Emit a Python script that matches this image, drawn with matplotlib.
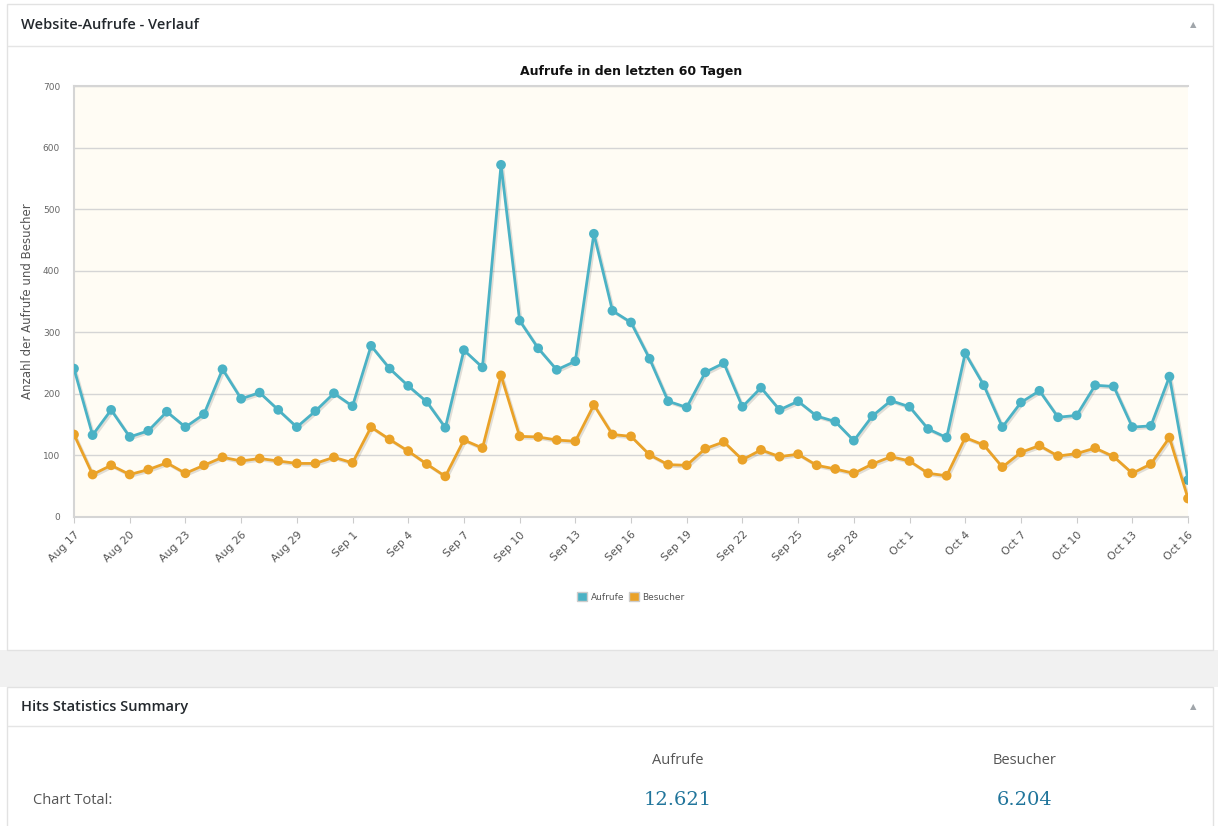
import matplotlib
matplotlib.use("Agg")
import matplotlib.pyplot as plt
import matplotlib.patheffects as pe
from matplotlib.patches import Rectangle, Patch
import numpy as np

W, H = 1218, 826

# ---- data ----
day_labels = ["Aug 17", "Aug 18", "Aug 19", "Aug 20", "Aug 21", "Aug 22", "Aug 23", "Aug 24",
              "Aug 25", "Aug 26", "Aug 27", "Aug 28", "Aug 29", "Aug 30", "Aug 31", "Sep 1",
              "Sep 2", "Sep 3", "Sep 4", "Sep 5", "Sep 6", "Sep 7", "Sep 8", "Sep 9", "Sep 10",
              "Sep 11", "Sep 12", "Sep 13", "Sep 14", "Sep 15", "Sep 16", "Sep 17", "Sep 18",
              "Sep 19", "Sep 20", "Sep 21", "Sep 22", "Sep 23", "Sep 24", "Sep 25", "Sep 26",
              "Sep 27", "Sep 28", "Sep 29", "Sep 30", "Oct 1", "Oct 2", "Oct 3", "Oct 4",
              "Oct 5", "Oct 6", "Oct 7", "Oct 8", "Oct 9", "Oct 10", "Oct 11", "Oct 12",
              "Oct 13", "Oct 14", "Oct 15", "Oct 16"]

aufrufe = [241, 133, 174, 130, 140, 171, 146, 167, 240, 192, 202, 174, 146, 172, 201, 180,
           278, 241, 213, 187, 145, 271, 243, 572, 319, 274, 239, 253, 460, 335, 316, 257,
           188, 178, 235, 250, 179, 210, 174, 188, 164, 155, 124, 164, 189, 179, 143, 129,
           266, 214, 146, 186, 205, 162, 165, 214, 212, 146, 148, 228, 60]

besucher = [134, 69, 84, 69, 77, 88, 71, 84, 97, 91, 95, 91, 87, 87, 97, 88,
            146, 126, 107, 86, 66, 125, 112, 230, 131, 130, 125, 123, 182, 134, 131, 101,
            85, 84, 111, 122, 93, 109, 98, 102, 84, 78, 71, 86, 98, 91, 71, 67,
            129, 117, 81, 105, 116, 99, 103, 112, 98, 71, 86, 129, 30]

y_ticks = [0, 100, 200, 300, 400, 500, 600, 700]
series_names = ["Aufrufe", "Besucher"]
totals = ["12.621", "6.204"]

c_auf = "#4BB2C5"
c_bes = "#EAA228"

fig = plt.figure(figsize=(W / 100, H / 100), dpi=100, facecolor="white")

def fx(x):
    return x / W

def fy(y):
    return 1 - y / H

def rect(x0, y0, x1, y1, fc, ec="none", lw=1.0, z=0):
    r = Rectangle((fx(x0), fy(y1)), fx(x1) - fx(x0), fy(y0) - fy(y1),
                  transform=fig.transFigure, facecolor=fc, edgecolor=ec, linewidth=lw, zorder=z)
    fig.add_artist(r)

def hline(x0, x1, y, color="#E5E5E5", lw=1.0):
    fig.add_artist(plt.Line2D([fx(x0), fx(x1)], [fy(y), fy(y)], transform=fig.transFigure,
                              color=color, linewidth=lw))

# background panels
rect(0, 650, W, 687, "#F1F1F1")
rect(7, 4, 1213, 650, "white", ec="#E2E2E2", lw=1.0)
rect(7, 687, 1213, 840, "white", ec="#E2E2E2", lw=1.0)
hline(8, 1212, 46)
hline(8, 1212, 726)

hdr_font = dict(family="Open Sans", fontsize=10.5, fontweight="semibold", color="#23282D")
fig.text(fx(21), fy(25), "Website-Aufrufe - Verlauf", va="center", ha="left", **hdr_font)
fig.text(fx(21), fy(707), "Hits Statistics Summary", va="center", ha="left", **hdr_font)
fig.text(fx(1193), fy(25), "\u25B2", va="center", ha="center", fontsize=6, color="#A0A5AA")
fig.text(fx(1193), fy(707), "\u25B2", va="center", ha="center", fontsize=6, color="#A0A5AA")

# summary
fig.text(fx(678), fy(760), series_names[0], ha="center", va="center",
         family="Open Sans", fontsize=10.5, color="#555555")
fig.text(fx(1025), fy(760), series_names[1], ha="center", va="center",
         family="Open Sans", fontsize=10.5, color="#555555")
fig.text(fx(33), fy(800), "Chart Total:", ha="left", va="center",
         family="Open Sans", fontsize=10.5, color="#555555")
fig.text(fx(678), fy(800), totals[0], ha="center", va="center",
         family="DejaVu Serif", fontsize=14, color="#21759B")
fig.text(fx(1025), fy(800), totals[1], ha="center", va="center",
         family="DejaVu Serif", fontsize=14, color="#21759B")

# chart axes
ax_l, ax_r, ax_t, ax_b = 74, 1188, 86, 517
ax = fig.add_axes([fx(ax_l), fy(ax_b), fx(ax_r) - fx(ax_l), fy(ax_t) - fy(ax_b)])
ax.set_facecolor("#FFFCF4")
x = np.arange(len(day_labels))

shadow = [pe.SimpleLineShadow(offset=(1.2, -1.2), shadow_color="black", alpha=0.12), pe.Normal()]
for vals, col, name in [(aufrufe, c_auf, series_names[0]), (besucher, c_bes, series_names[1])]:
    ax.plot(x, vals, color=col, linewidth=2.0, marker="o", markersize=7, markeredgewidth=0,
            label=name, path_effects=shadow, clip_on=True, zorder=3)

ax.set_xlim(0, len(day_labels) - 1)
ax.set_ylim(0, 700)
ax.set_yticks(y_ticks)
ax.set_yticklabels([str(v) for v in y_ticks])
ax.yaxis.grid(True, color="#D5D5D5", linewidth=1.0)
ax.set_axisbelow(True)
ax.tick_params(axis="y", length=0, pad=10, labelsize=6.5, labelcolor="#666666")

xt = x[::3]
ax.set_xticks(xt)
ax.set_xticklabels([day_labels[i] for i in xt], rotation=45, ha="right", va="top",
                   rotation_mode="anchor", fontsize=7.8, color="#555555")
ax.tick_params(axis="x", length=4, color="#CCCCCC", pad=5)

ax.spines["right"].set_visible(False)
for s in ["top", "left", "bottom"]:
    ax.spines[s].set_color("#D5D5D5")
    ax.spines[s].set_linewidth(1.5)

ax.set_title("Aufrufe in den letzten 60 Tagen", fontsize=9, fontweight="bold",
             family="DejaVu Sans", color="#111111", pad=8)
ax.set_ylabel("Anzahl der Aufrufe und Besucher", fontsize=8.5, color="#555555",
              family="DejaVu Sans")
ax.yaxis.set_label_coords(-0.036, 0.5)

handles = [Patch(facecolor=c_auf, edgecolor="#CCCCCC", linewidth=1.0),
           Patch(facecolor=c_bes, edgecolor="#CCCCCC", linewidth=1.0)]
ax.legend(handles, series_names, loc="center",
          bbox_to_anchor=((631 - ax_l) / (ax_r - ax_l), (ax_b - 597) / (ax_b - ax_t)),
          ncol=2, frameon=False, fontsize=6.5, handlelength=1.1, handleheight=1.1,
          columnspacing=0.5, handletextpad=0.4, labelcolor="#555555")

fig.savefig("out.png", dpi=100, facecolor="white")
